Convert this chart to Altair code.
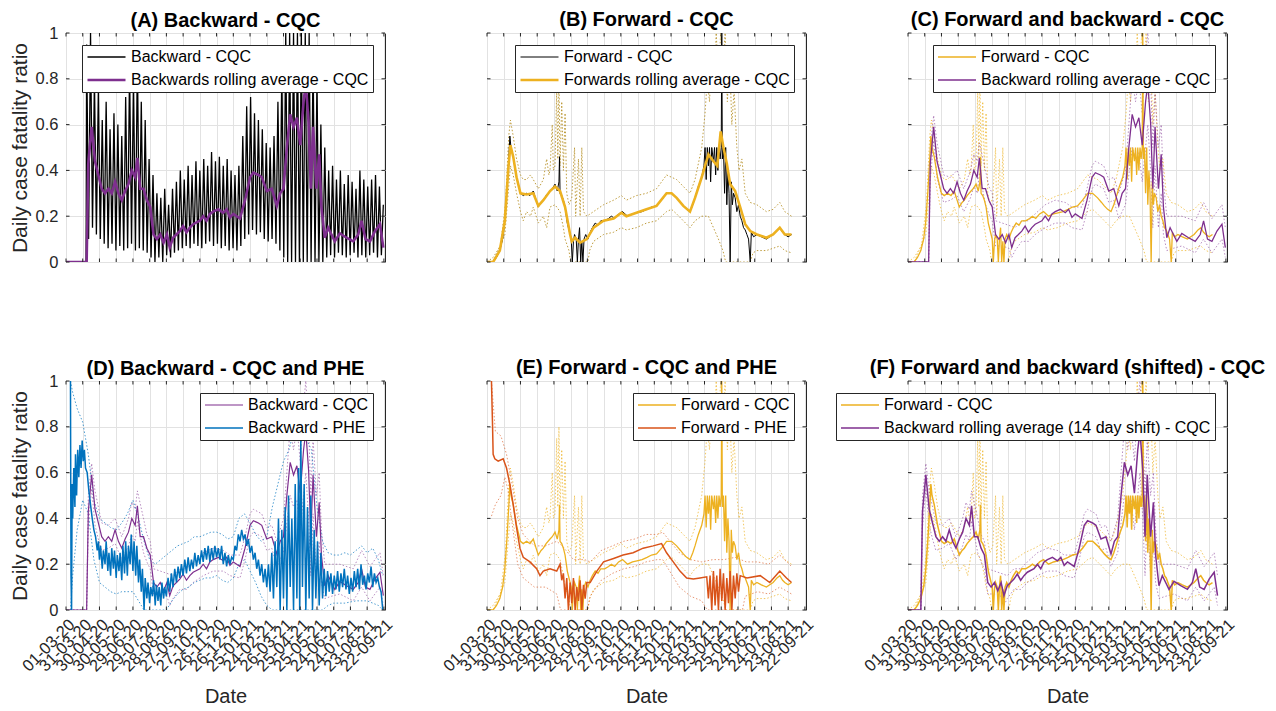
import altair as alt
import pandas as pd

# ---------------- axis ticks ----------------
TICK_STEP = 30
TICK_DAYS = [0, 30, 60, 90, 120, 150, 180, 210, 240, 270, 300, 330, 360, 390, 420, 450, 480, 510, 540, 570]
TICK_LABELS = ["01-03-20", "31-03-20", "30-04-20", "30-05-20", "29-06-20", "29-07-20", "28-08-20",
               "27-09-20", "27-10-20", "26-11-20", "26-12-20", "25-01-21", "24-02-21", "26-03-21",
               "25-04-21", "25-05-21", "24-06-21", "24-07-21", "23-08-21", "22-09-21"]
Y_TICKS = [0, 0.2, 0.4, 0.6, 0.8, 1]
X_MAX = 572
SHIFT_DAYS = 14

# ---------------- data: (day since 01-03-20, ratio) ----------------
FWD_AVG = [(0, 0.0), (11, 0.0), (23, 0.05), (32, 0.18), (38, 0.40), (42, 0.51), (47, 0.46), (53, 0.37),
           (60, 0.30), (71, 0.295), (83, 0.30), (92, 0.245), (101, 0.27), (113, 0.31), (122, 0.33),
           (131, 0.31), (140, 0.24), (149, 0.12), (152, 0.09), (158, 0.106), (167, 0.084), (179, 0.10),
           (191, 0.15), (209, 0.18), (227, 0.19), (241, 0.215), (250, 0.20), (268, 0.215), (286, 0.23),
           (304, 0.245), (322, 0.30), (331, 0.30), (340, 0.28), (352, 0.245), (364, 0.22), (373, 0.28),
           (385, 0.37), (397, 0.47), (406, 0.44), (413, 0.42), (419, 0.57), (424, 0.50), (430, 0.43),
           (436, 0.34), (445, 0.31), (454, 0.24), (463, 0.165), (472, 0.135), (484, 0.12), (501, 0.106),
           (513, 0.12), (525, 0.15), (534, 0.12), (546, 0.12)]

FWD_RAW = [(0, 0.0), (11, 0.0), (17, 0.02), (23, 0.05), (28, 0.10), (32, 0.18), (36, 0.32), (39, 0.45),
           (41, 0.55), (43, 0.50), (47, 0.46), (53, 0.37), (60, 0.30), (65, 0.29), (71, 0.30), (77, 0.29),
           (83, 0.31), (88, 0.27), (92, 0.24), (97, 0.26), (101, 0.27), (106, 0.29), (113, 0.31),
           (117, 0.32), (122, 0.34), (126, 0.31), (129, 0.35), (130, 0.46), (131, 0.30), (134, 0.29),
           (137, 0.27), (140, 0.24), (144, 0.17), (149, 0.12), (151, 0.10), (153, 0.0), (155, 0.09),
           (157, 0.12), (160, 0.10), (162, 0.0), (164, 0.10), (166, 0.15), (168, 0.0), (170, 0.09),
           (172, 0.0), (174, 0.10), (177, 0.12), (181, 0.10), (185, 0.13), (189, 0.15), (194, 0.17),
           (199, 0.16), (204, 0.18), (211, 0.18), (218, 0.19), (223, 0.20), (229, 0.19), (236, 0.21),
           (243, 0.22), (252, 0.20), (261, 0.21), (269, 0.215), (278, 0.22), (287, 0.23), (295, 0.24),
           (304, 0.245), (313, 0.27), (322, 0.30), (331, 0.30), (340, 0.28), (347, 0.26), (352, 0.245),
           (358, 0.23), (364, 0.22), (369, 0.25), (373, 0.28), (379, 0.33), (385, 0.37), (389, 0.42),
           (391, 0.50), (393, 0.36), (395, 0.50), (397, 0.42), (399, 0.50), (401, 0.35), (403, 0.50),
           (406, 0.44), (408, 0.50), (410, 0.38), (412, 0.50), (414, 0.40), (416, 0.50), (418, 0.45),
           (420, 0.50), (421, 1.0), (422, 0.45), (424, 0.50), (426, 0.30), (428, 0.50), (430, 0.25),
           (432, 0.40), (434, 0.30), (436, 0.0), (438, 0.35), (440, 0.25), (442, 0.30), (445, 0.28),
           (448, 0.22), (451, 0.25), (454, 0.20), (457, 0.18), (460, 0.15), (463, 0.14), (466, 0.12),
           (469, 0.10), (472, 0.0), (474, 0.13), (478, 0.11), (484, 0.12), (492, 0.11), (501, 0.10),
           (507, 0.11), (513, 0.12), (520, 0.14), (525, 0.15), (530, 0.13), (534, 0.12), (540, 0.11),
           (546, 0.12)]

FWD_UP = [(0, 0.0), (11, 0.02), (24, 0.07), (33, 0.25), (39, 0.55), (42, 0.62), (47, 0.55), (53, 0.45),
          (60, 0.38), (65, 0.36), (71, 0.36), (78, 0.38), (83, 0.36), (92, 0.32), (101, 0.36), (107, 0.45),
          (111, 0.38), (113, 0.40), (117, 0.60), (119, 0.40), (122, 0.42), (125, 0.75), (127, 0.45),
          (129, 0.80), (131, 0.42), (134, 0.70), (137, 0.40), (140, 0.65), (143, 0.30), (147, 0.25),
          (152, 0.28), (157, 0.50), (159, 0.20), (164, 0.45), (167, 0.20), (170, 0.50), (173, 0.22),
          (179, 0.20), (191, 0.22), (209, 0.25), (227, 0.27), (241, 0.29), (250, 0.27), (268, 0.29),
          (286, 0.30), (304, 0.32), (322, 0.38), (331, 0.37), (340, 0.36), (352, 0.33), (364, 0.30),
          (373, 0.36), (385, 0.50), (391, 0.65), (395, 0.80), (399, 0.70), (403, 0.90), (407, 0.75),
          (411, 1.0), (415, 0.80), (419, 1.0), (423, 0.85), (427, 1.0), (431, 0.70), (435, 0.90),
          (439, 0.60), (443, 0.75), (448, 0.50), (452, 0.40), (457, 0.45), (463, 0.30), (472, 0.26),
          (484, 0.25), (501, 0.22), (513, 0.23), (525, 0.26), (534, 0.22), (546, 0.20)]

FWD_LO = [(0, 0.0), (11, 0.0), (32, 0.12), (38, 0.30), (42, 0.42), (47, 0.38), (53, 0.30), (60, 0.22),
          (65, 0.18), (71, 0.22), (78, 0.20), (83, 0.24), (92, 0.17), (101, 0.20), (107, 0.15), (113, 0.24),
          (122, 0.25), (131, 0.22), (137, 0.15), (140, 0.10), (147, 0.05), (150, 0.0), (181, 0.0),
          (184, 0.05), (191, 0.09), (209, 0.12), (227, 0.13), (241, 0.15), (250, 0.14), (268, 0.15),
          (286, 0.17), (304, 0.18), (322, 0.22), (331, 0.23), (340, 0.21), (352, 0.18), (364, 0.15),
          (373, 0.18), (385, 0.20), (397, 0.20), (406, 0.15), (415, 0.10), (423, 0.05), (428, 0.0),
          (472, 0.0), (477, 0.04), (484, 0.05), (501, 0.05), (513, 0.06), (525, 0.07), (534, 0.05),
          (546, 0.04)]

BWD_AVG = [(0, 0.0), (37, 0.0), (40, 0.43), (46, 0.59), (52, 0.44), (58, 0.38), (64, 0.32), (70, 0.30),
           (76, 0.32), (82, 0.30), (88, 0.35), (94, 0.30), (100, 0.27), (106, 0.31), (112, 0.34),
           (118, 0.40), (124, 0.37), (128, 0.455), (133, 0.32), (139, 0.32), (145, 0.27), (151, 0.24),
           (157, 0.12), (163, 0.10), (169, 0.12), (175, 0.084), (181, 0.12), (186, 0.063), (192, 0.106),
           (198, 0.12), (204, 0.135), (210, 0.157), (216, 0.13), (222, 0.15), (228, 0.165), (240, 0.18),
           (246, 0.20), (252, 0.18), (258, 0.21), (264, 0.22), (273, 0.23), (282, 0.215), (288, 0.23),
           (294, 0.195), (300, 0.21), (312, 0.19), (321, 0.27), (330, 0.37), (336, 0.39), (345, 0.38),
           (351, 0.37), (360, 0.31), (369, 0.32), (378, 0.245), (384, 0.30), (390, 0.32), (396, 0.50),
           (402, 0.645), (408, 0.59), (414, 0.63), (420, 0.51), (426, 0.70), (430, 0.78), (435, 0.61),
           (439, 0.32), (443, 0.59), (449, 0.32), (454, 0.47), (458, 0.24), (464, 0.106), (470, 0.15),
           (476, 0.12), (482, 0.09), (491, 0.125), (503, 0.106), (515, 0.09), (524, 0.12), (530, 0.18),
           (537, 0.10), (545, 0.09), (554, 0.135), (563, 0.165), (569, 0.063)]

BWD_UP = [(0, 0.0), (37, 0.0), (40, 0.50), (46, 0.64), (52, 0.52), (58, 0.45), (64, 0.38), (76, 0.37),
          (88, 0.40), (100, 0.32), (112, 0.40), (118, 0.47), (124, 0.44), (128, 0.52), (139, 0.40),
          (145, 0.33), (151, 0.30), (157, 0.18), (169, 0.17), (181, 0.16), (192, 0.15), (204, 0.18),
          (216, 0.18), (228, 0.21), (246, 0.25), (264, 0.27), (282, 0.26), (294, 0.24), (312, 0.24),
          (321, 0.32), (330, 0.42), (336, 0.44), (351, 0.42), (360, 0.36), (369, 0.37), (378, 0.30),
          (390, 0.40), (396, 0.60), (402, 0.80), (408, 0.70), (414, 0.80), (420, 0.65), (426, 0.90),
          (430, 1.0), (435, 0.80), (439, 0.50), (443, 0.75), (449, 0.50), (454, 0.60), (458, 0.35),
          (464, 0.20), (476, 0.20), (491, 0.20), (515, 0.18), (530, 0.26), (545, 0.19), (563, 0.25),
          (569, 0.15)]

BWD_LO = [(0, 0.0), (37, 0.0), (40, 0.36), (46, 0.53), (52, 0.37), (58, 0.31), (64, 0.26), (76, 0.27),
          (88, 0.29), (100, 0.22), (112, 0.28), (118, 0.33), (124, 0.30), (128, 0.39), (139, 0.25),
          (145, 0.21), (151, 0.18), (157, 0.07), (169, 0.07), (181, 0.06), (186, 0.02), (192, 0.05),
          (204, 0.09), (216, 0.09), (228, 0.12), (246, 0.15), (264, 0.17), (282, 0.17), (294, 0.15),
          (312, 0.14), (321, 0.22), (330, 0.32), (336, 0.34), (351, 0.32), (360, 0.26), (369, 0.27),
          (378, 0.19), (390, 0.25), (396, 0.38), (402, 0.50), (408, 0.45), (414, 0.48), (420, 0.35),
          (426, 0.50), (430, 0.60), (435, 0.40), (439, 0.15), (443, 0.42), (449, 0.15), (454, 0.30),
          (458, 0.12), (464, 0.05), (476, 0.06), (491, 0.07), (515, 0.04), (530, 0.10), (545, 0.04),
          (563, 0.10), (569, 0.02)]

# raw backward CQC: weekly peaks and troughs
BWD_RAW_LEAD = [(0, 0.0), (36, 0.0)]
BWD_RAW_FIRST_PEAK_DAY = 37
BWD_RAW_WEEK = 7
BWD_RAW_HI = [0.95, 1.0, 0.80, 0.75, 0.62, 0.70, 0.58, 0.65, 0.60, 0.55,
              0.72, 0.85, 0.80, 0.90, 0.70, 0.62, 0.45, 0.38, 0.30, 0.28,
              0.32, 0.25, 0.32, 0.35, 0.40, 0.36, 0.42, 0.38, 0.44, 0.40,
              0.45, 0.42, 0.48, 0.44, 0.46, 0.42, 0.45, 0.40, 0.38, 0.42,
              0.55, 0.68, 0.72, 0.65, 0.62, 0.58, 0.52, 0.50, 0.55, 0.70,
              0.85, 1.0, 1.0, 1.0, 1.0, 1.0, 1.0, 1.0, 0.90, 0.80,
              0.60, 0.50, 0.40, 0.42, 0.36, 0.40, 0.34, 0.38, 0.35, 0.32,
              0.40, 0.36, 0.33, 0.36, 0.38, 0.33, 0.25]
BWD_RAW_LO = [0.10, 0.15, 0.12, 0.10, 0.08, 0.06, 0.08, 0.05, 0.07, 0.05,
              0.06, 0.08, 0.05, 0.06, 0.05, 0.04, 0.02, 0.0, 0.02, 0.0,
              0.03, 0.02, 0.04, 0.05, 0.06, 0.07, 0.06, 0.08, 0.07, 0.06,
              0.08, 0.09, 0.07, 0.08, 0.06, 0.07, 0.05, 0.06, 0.05, 0.07,
              0.10, 0.12, 0.14, 0.12, 0.13, 0.10, 0.09, 0.10, 0.08, 0.05,
              0.02, 0.0, 0.0, 0.0, 0.0, 0.0, 0.0, 0.0, 0.0, 0.0,
              0.0, 0.02, 0.03, 0.02, 0.04, 0.03, 0.02, 0.03, 0.04, 0.02,
              0.03, 0.02, 0.03, 0.04, 0.02, 0.03]

PHE_BWD = [(8, 1.0), (9, 0.15), (10, 0.0), (11, 0.55), (12, 0.40), (14, 0.62), (16, 0.45), (17, 0.68),
           (19, 0.50), (21, 0.70), (23, 0.58), (25, 0.72), (27, 0.62), (29, 0.74), (31, 0.65), (33, 0.70),
           (35, 0.62), (38, 0.60), (41, 0.52), (44, 0.46), (47, 0.40), (50, 0.35), (53, 0.32), (56, 0.26),
           (58, 0.30), (60, 0.22), (62, 0.28), (65, 0.18), (67, 0.26), (70, 0.20), (72, 0.30), (75, 0.17),
           (77, 0.25), (80, 0.15), (82, 0.27), (85, 0.18), (87, 0.26), (90, 0.14), (92, 0.24), (95, 0.17),
           (97, 0.25), (100, 0.13), (102, 0.28), (105, 0.16), (107, 0.30), (110, 0.15), (112, 0.28),
           (115, 0.20), (117, 0.33), (120, 0.17), (122, 0.30), (125, 0.15), (127, 0.28), (130, 0.12),
           (132, 0.22), (135, 0.08), (137, 0.18), (140, 0.0), (142, 0.14), (145, 0.05), (147, 0.12),
           (150, 0.03), (152, 0.10), (155, 0.06), (157, 0.13), (160, 0.02), (162, 0.11), (165, 0.04),
           (167, 0.10), (170, 0.02), (172, 0.12), (175, 0.05), (177, 0.10), (180, 0.06), (183, 0.14),
           (186, 0.08), (189, 0.16), (192, 0.10), (195, 0.18), (198, 0.12), (201, 0.19), (204, 0.14),
           (207, 0.20), (210, 0.15), (213, 0.22), (216, 0.16), (219, 0.23), (222, 0.17), (225, 0.22),
           (228, 0.18), (231, 0.25), (234, 0.19), (237, 0.24), (240, 0.20), (243, 0.26), (246, 0.21),
           (249, 0.27), (252, 0.22), (255, 0.28), (258, 0.21), (261, 0.27), (264, 0.22), (267, 0.28),
           (270, 0.23), (273, 0.27), (276, 0.22), (279, 0.28), (282, 0.20), (285, 0.25), (288, 0.19),
           (291, 0.24), (294, 0.20), (297, 0.23), (300, 0.22), (303, 0.28), (306, 0.26), (309, 0.33),
           (312, 0.30), (315, 0.35), (318, 0.31), (321, 0.33), (324, 0.28), (327, 0.31), (330, 0.25),
           (333, 0.28), (336, 0.22), (339, 0.25), (342, 0.18), (345, 0.22), (348, 0.15), (351, 0.20),
           (354, 0.12), (357, 0.18), (360, 0.10), (363, 0.20), (366, 0.08), (369, 0.25), (372, 0.05),
           (375, 0.30), (378, 0.10), (381, 0.40), (384, 0.0), (387, 0.35), (390, 0.05), (393, 0.45),
           (396, 0.0), (399, 0.50), (402, 0.10), (405, 0.40), (408, 0.0), (411, 0.55), (414, 0.05),
           (417, 0.62), (419, 0.0), (421, 0.75), (424, 0.10), (427, 0.55), (430, 0.0), (433, 0.45),
           (436, 0.05), (439, 0.50), (442, 0.0), (445, 0.35), (448, 0.05), (451, 0.30), (454, 0.02),
           (457, 0.25), (460, 0.05), (463, 0.18), (466, 0.06), (469, 0.17), (472, 0.08), (475, 0.16),
           (478, 0.07), (481, 0.15), (484, 0.09), (487, 0.17), (490, 0.08), (493, 0.16), (496, 0.10),
           (499, 0.18), (502, 0.09), (505, 0.15), (508, 0.07), (511, 0.14), (514, 0.08), (517, 0.17),
           (520, 0.10), (523, 0.18), (526, 0.09), (529, 0.20), (532, 0.11), (535, 0.15), (538, 0.09),
           (541, 0.16), (544, 0.12), (547, 0.19), (550, 0.10), (553, 0.16), (556, 0.12), (559, 0.14),
           (562, 0.10), (565, 0.08), (568, 0.0)]

PHE_BWD_UP = [(8, 1.0), (12, 0.95), (20, 0.88), (30, 0.82), (40, 0.68), (50, 0.48), (60, 0.40), (70, 0.38),
              (80, 0.36), (90, 0.35), (100, 0.38), (110, 0.42), (120, 0.48), (130, 0.40), (140, 0.30),
              (150, 0.22), (160, 0.20), (170, 0.22), (180, 0.24), (190, 0.26), (200, 0.28), (210, 0.29),
              (220, 0.30), (230, 0.32), (240, 0.32), (250, 0.33), (260, 0.34), (270, 0.34), (280, 0.33),
              (290, 0.31), (300, 0.32), (310, 0.40), (320, 0.42), (330, 0.38), (340, 0.33), (350, 0.30),
              (360, 0.32), (370, 0.45), (380, 0.55), (390, 0.65), (400, 0.70), (410, 0.80), (420, 0.90),
              (430, 0.75), (440, 0.70), (450, 0.45), (460, 0.30), (470, 0.25), (480, 0.24), (490, 0.24),
              (500, 0.25), (510, 0.24), (520, 0.26), (530, 0.28), (540, 0.25), (550, 0.27), (560, 0.22),
              (568, 0.15)]

PHE_BWD_LO = [(8, 0.0), (12, 0.15), (20, 0.35), (30, 0.48), (40, 0.42), (50, 0.22), (60, 0.12), (70, 0.10),
              (80, 0.08), (90, 0.07), (100, 0.08), (110, 0.08), (120, 0.08), (130, 0.04), (140, 0.0),
              (180, 0.0), (190, 0.04), (200, 0.07), (210, 0.09), (220, 0.10), (230, 0.12), (240, 0.13),
              (250, 0.14), (260, 0.14), (270, 0.15), (280, 0.13), (290, 0.12), (300, 0.14), (310, 0.20),
              (320, 0.22), (330, 0.17), (340, 0.12), (350, 0.06), (360, 0.02), (370, 0.0), (460, 0.0),
              (470, 0.02), (480, 0.03), (500, 0.03), (520, 0.04), (540, 0.04), (560, 0.02), (568, 0.0)]

PHE_FWD = [(8, 1.0), (10, 0.80), (11, 0.68), (14, 0.66), (20, 0.65), (29, 0.66), (35, 0.62), (41, 0.55),
           (47, 0.46), (53, 0.36), (59, 0.27), (65, 0.23), (77, 0.21), (89, 0.18), (95, 0.15), (101, 0.17),
           (113, 0.18), (125, 0.17), (131, 0.20), (134, 0.13), (137, 0.16), (140, 0.05), (143, 0.14),
           (146, 0.0), (149, 0.12), (152, 0.03), (155, 0.14), (158, 0.0), (161, 0.10), (164, 0.04),
           (167, 0.13), (170, 0.0), (173, 0.11), (176, 0.05), (179, 0.12), (185, 0.12), (197, 0.17),
           (209, 0.21), (227, 0.225), (244, 0.24), (262, 0.25), (280, 0.27), (298, 0.28), (313, 0.29),
           (322, 0.25), (334, 0.21), (346, 0.17), (358, 0.14), (370, 0.135), (382, 0.14), (394, 0.145),
           (397, 0.05), (400, 0.15), (403, 0.0), (406, 0.17), (409, 0.02), (412, 0.15), (415, 0.0),
           (418, 0.18), (421, 0.04), (424, 0.16), (427, 0.0), (430, 0.14), (433, 0.03), (436, 0.17),
           (439, 0.0), (442, 0.15), (445, 0.05), (448, 0.16), (451, 0.08), (454, 0.15), (466, 0.14),
           (490, 0.15), (507, 0.12), (525, 0.17), (537, 0.14), (546, 0.12)]

PHE_FWD_UP = [(8, 1.0), (15, 0.78), (25, 0.76), (35, 0.68), (45, 0.55), (55, 0.40), (65, 0.33), (85, 0.28),
              (105, 0.28), (125, 0.30), (135, 0.28), (155, 0.22), (175, 0.22), (185, 0.21), (205, 0.26),
              (225, 0.28), (245, 0.30), (265, 0.31), (285, 0.33), (305, 0.33), (315, 0.34), (325, 0.31),
              (345, 0.25), (365, 0.22), (385, 0.21), (405, 0.22), (425, 0.22), (445, 0.23), (465, 0.21),
              (485, 0.21), (505, 0.20), (525, 0.24), (546, 0.19)]

PHE_FWD_LO = [(8, 0.41), (15, 0.46), (25, 0.50), (32, 0.58), (38, 0.52), (45, 0.38), (55, 0.20), (65, 0.14),
              (85, 0.10), (105, 0.10), (125, 0.07), (132, 0.0), (180, 0.0), (185, 0.06), (205, 0.13),
              (225, 0.16), (245, 0.18), (265, 0.19), (285, 0.21), (305, 0.22), (315, 0.22), (325, 0.18),
              (345, 0.10), (365, 0.06), (385, 0.04), (395, 0.0), (458, 0.0), (463, 0.06), (485, 0.08),
              (505, 0.07), (525, 0.10), (546, 0.07)]

# ---------------- colours ----------------
BLACK = "#000000"
PURPLE = "#7E2F8E"
ORANGE = "#EDB120"
BLUE = "#0072BD"
RED = "#D95319"
OCHRE = "#B8922A"
AXIS_COLOR = "#262626"

PANEL_W = 319
PANEL_H = 229
TICK_LEN = 3.5

# ---------------- helpers ----------------
def raw_backward_pairs():
    pts = list(BWD_RAW_LEAD)
    for k, hi in enumerate(BWD_RAW_HI):
        pts.append((BWD_RAW_FIRST_PEAK_DAY + BWD_RAW_WEEK * k, hi))
        if k < len(BWD_RAW_LO):
            pts.append((BWD_RAW_FIRST_PEAK_DAY + BWD_RAW_WEEK * k + BWD_RAW_WEEK / 2, BWD_RAW_LO[k]))
    return pts


def shifted(pairs, days):
    return [(d - days, v) for d, v in pairs]


LABEL_EXPR = "[" + ",".join("'%s'" % s for s in TICK_LABELS) + "][round(datum.value / %d)]" % TICK_STEP


def panel(title, mains, bounds, col, row, width=PANEL_W, height=PANEL_H):
    left = col == 0
    bottom = row == 1
    if bottom:
        xaxis = alt.Axis(values=TICK_DAYS, grid=True, ticks=False, domain=False, labels=True,
                         labelExpr=LABEL_EXPR, labelAngle=-45, labelAlign="right",
                         labelBaseline="top", labelOverlap=False, labelFlush=False, title="Date")
    else:
        xaxis = alt.Axis(values=TICK_DAYS, grid=True, ticks=False, domain=False, labels=False, title=None)
    if left:
        yaxis = alt.Axis(values=Y_TICKS, grid=True, ticks=False, domain=False, format="~g",
                         labelOverlap=False, labelFlush=False, title="Daily case fatality ratio")
    else:
        yaxis = alt.Axis(values=Y_TICKS, grid=True, ticks=False, domain=False, labels=False, title=None)
    X = alt.X("day:Q", scale=alt.Scale(domain=[0, X_MAX], nice=False, zero=False), axis=xaxis)
    Y = alt.Y("value:Q", scale=alt.Scale(domain=[0, 1], nice=False), axis=yaxis)

    layers = []
    for pairs, color, op in bounds:
        df = pd.DataFrame(pairs, columns=["day", "value"])
        layers.append(
            alt.Chart(df).mark_line(clip=True, strokeDash=[1.5, 2], strokeWidth=1, color=color, opacity=op)
            .encode(x=X, y=Y)
        )
    labels = [m[0] for m in mains]
    cscale = alt.Scale(domain=labels, range=[m[2] for m in mains])
    wscale = alt.Scale(domain=labels, range=[m[3] for m in mains])
    for lab, pairs, color, w in mains:
        df = pd.DataFrame(pairs, columns=["day", "value"])
        df["series"] = lab
        layers.append(
            alt.Chart(df).mark_line(clip=True).encode(
                x=X, y=Y,
                color=alt.Color("series:N", scale=cscale, title=None),
                strokeWidth=alt.StrokeWidth("series:N", scale=wscale, title=None),
            )
        )

    # inward box ticks (MATLAB style) at the axis tick positions
    xt = pd.DataFrame({"day": TICK_DAYS})
    yt = pd.DataFrame({"value": Y_TICKS})
    tick = dict(color=AXIS_COLOR, strokeWidth=1)
    layers.append(alt.Chart(xt).mark_rule(**tick).encode(x=X, y=alt.value(0), y2=alt.value(TICK_LEN)))
    layers.append(alt.Chart(xt).mark_rule(**tick).encode(x=X, y=alt.value(height - TICK_LEN), y2=alt.value(height)))
    layers.append(alt.Chart(yt).mark_rule(**tick).encode(y=Y, x=alt.value(0), x2=alt.value(TICK_LEN)))
    layers.append(alt.Chart(yt).mark_rule(**tick).encode(y=Y, x=alt.value(width - TICK_LEN), x2=alt.value(width)))

    tparams = alt.TitleParams(text=title, offset=(-6 if left else 3))
    return alt.layer(*layers).properties(width=width, height=height, title=tparams)


pA = panel("(A) Backward - CQC",
           [("Backward - CQC", raw_backward_pairs(), BLACK, 1.3),
            ("Backwards rolling average - CQC", BWD_AVG, PURPLE, 2.6)],
           [], 0, 0)
pB = panel("(B) Forward - CQC",
           [("Forward - CQC", FWD_RAW, BLACK, 1.0),
            ("Forwards rolling average - CQC", FWD_AVG, ORANGE, 2.6)],
           [(FWD_UP, OCHRE, 0.9), (FWD_LO, OCHRE, 0.9)], 1, 0)
pC = panel("(C) Forward and backward - CQC",
           [("Forward - CQC", FWD_RAW, ORANGE, 1.3),
            ("Backward rolling average - CQC", BWD_AVG, PURPLE, 1.3)],
           [(FWD_UP, ORANGE, 0.7), (FWD_LO, ORANGE, 0.7), (BWD_UP, PURPLE, 0.55), (BWD_LO, PURPLE, 0.55)],
           2, 0)
pD = panel("(D) Backward - CQC and PHE",
           [("Backward - CQC", BWD_AVG, PURPLE, 1.2),
            ("Backward - PHE", PHE_BWD, BLUE, 1.5)],
           [(BWD_UP, PURPLE, 0.55), (BWD_LO, PURPLE, 0.55), (PHE_BWD_UP, BLUE, 0.7), (PHE_BWD_LO, BLUE, 0.7)],
           0, 1)
pE = panel("(E) Forward - CQC and PHE",
           [("Forward - CQC", FWD_RAW, ORANGE, 1.3),
            ("Forward - PHE", PHE_FWD, RED, 1.5)],
           [(FWD_UP, ORANGE, 0.7), (FWD_LO, ORANGE, 0.7), (PHE_FWD_UP, RED, 0.6), (PHE_FWD_LO, RED, 0.6)],
           1, 1)
pF = panel("(F) Forward and backward (shifted) - CQC",
           [("Forward - CQC", FWD_RAW, ORANGE, 1.5),
            ("Backward rolling average (14 day shift) - CQC", shifted(BWD_AVG, SHIFT_DAYS), PURPLE, 1.5)],
           [(FWD_UP, ORANGE, 0.7), (FWD_LO, ORANGE, 0.7),
            (shifted(BWD_UP, SHIFT_DAYS), PURPLE, 0.55), (shifted(BWD_LO, SHIFT_DAYS), PURPLE, 0.55)],
           2, 1)

FONT = "Liberation Sans"
chart = (
    alt.concat(pA, pB, pC, pD, pE, pF, columns=3, spacing={"row": 119, "column": 102}, bounds="flush")
    .resolve_scale(color="independent", strokeWidth="independent")
    .properties(padding={"left": 0, "top": 1, "right": 2, "bottom": 2})
    .configure(font=FONT)
    .configure_view(stroke=AXIS_COLOR, strokeWidth=1)
    .configure_axis(gridColor="#E2E2E2", gridWidth=1, gridOpacity=1, labelFont=FONT, labelFontSize=16.5,
                    labelColor=AXIS_COLOR, titleFont=FONT, titleFontWeight="normal", titleColor=AXIS_COLOR)
    .configure_axisY(labelPadding=8, titlePadding=5, titleFontSize=21)
    .configure_axisX(labelPadding=6, titlePadding=12, titleFontSize=20)
    .configure_title(font=FONT, fontSize=20, fontWeight="bold", color="#000000",
                     anchor="middle", frame="group")
    .configure_legend(orient="top-right", offset=12, fillColor="white", strokeColor=AXIS_COLOR, padding=4,
                      rowPadding=7, labelFont=FONT, labelFontSize=16, labelColor="#000000", labelLimit=800,
                      symbolSize=1444, symbolType="stroke", labelOffset=4, clipHeight=16)
)

chart.save("out.html", embed_options={"renderer": "svg", "actions": False})
